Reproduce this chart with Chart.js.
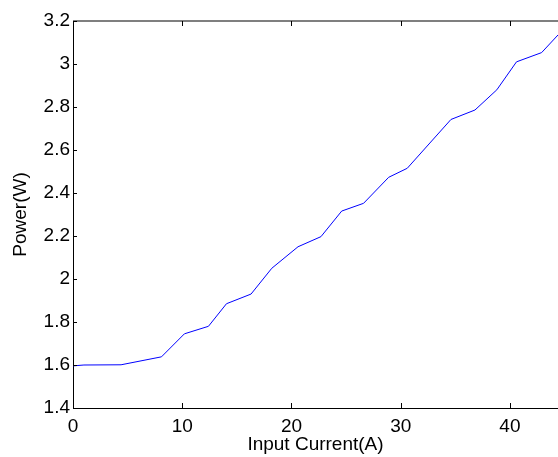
<!DOCTYPE html>
<html>
<head>
<meta charset="utf-8">
<script src="https://cdn.jsdelivr.net/npm/chart.js@4/dist/chart.umd.min.js"></script>
<style>
  html, body { margin: 0; padding: 0; background: #fff; }
  #wrap { width: 558px; height: 457px; }
</style>
</head>
<body>
<div id="wrap"><canvas id="chart"></canvas></div>
<script>
// values
const current = [0, 1.0, 4.4, 8.1, 10.2, 12.4, 14.05, 16.3, 18.2, 20.6, 22.7, 24.6, 26.6, 28.9, 30.6, 34.6, 36.8, 38.8, 40.6, 42.9, 44.4];
const power = [1.596, 1.6, 1.601, 1.638, 1.745, 1.78, 1.885, 1.93, 2.05, 2.15, 2.197, 2.316, 2.352, 2.473, 2.515, 2.742, 2.786, 2.88, 3.01, 3.053, 3.135];

const xTitle = "Input Current(A)";
const yTitle = "Power(W)";

Chart.defaults.font.family = "'Liberation Sans', Arial, Helvetica, sans-serif";
Chart.defaults.color = "#000";

// matlab style box: top edge and inward tick marks
const boxTicks = {
  id: "boxTicks",
  afterDatasetsDraw(chart) {
    const { ctx, chartArea: a, scales } = chart;
    ctx.save();
    ctx.strokeStyle = "#555";
    ctx.lineWidth = 1.5;
    ctx.beginPath();
    ctx.moveTo(a.left, a.top);
    ctx.lineTo(a.right, a.top);
    ctx.stroke();
    ctx.strokeStyle = "#000";
    ctx.lineWidth = 1;
    ctx.beginPath();
    scales.x.ticks.forEach(t => {
      const px = Math.round(scales.x.getPixelForValue(t.value)) + 0.5;
      ctx.moveTo(px, a.bottom);
      ctx.lineTo(px, a.bottom - 5);
      ctx.moveTo(px, a.top);
      ctx.lineTo(px, a.top + 5);
    });
    scales.y.ticks.forEach(t => {
      const py = Math.round(scales.y.getPixelForValue(t.value)) + 0.5;
      ctx.moveTo(a.left, py);
      ctx.lineTo(a.left + 4, py);
    });
    ctx.stroke();
    ctx.restore();
  }
};

new Chart(document.getElementById("chart"), {
  type: "line",
  data: {
    datasets: [{
      data: current.map((c, i) => ({ x: c, y: power[i] })),
      borderColor: "#0000ff",
      borderWidth: 1,
      pointRadius: 0,
      tension: 0,
      fill: false
    }]
  },
  options: {
    responsive: true,
    maintainAspectRatio: false,
    animation: false,
    layout: { padding: { top: 21, right: 0, left: 0, bottom: 0 } },
    plugins: { legend: { display: false }, tooltip: { enabled: false } },
    scales: {
      x: {
        type: "linear",
        min: 0,
        max: 44.4,
        afterFit: s => { s.height = 49; },
        grid: { display: false, drawTicks: false },
        border: { display: true, color: "#000", width: 1 },
        ticks: { stepSize: 10, includeBounds: false, padding: 7, font: { size: 19 }, maxRotation: 0 },
        title: { display: true, text: xTitle, font: { size: 19 }, padding: { top: 0, bottom: 1 } }
      },
      y: {
        min: 1.4,
        max: 3.2,
        afterFit: s => { s.width = 73; },
        grid: { display: false, drawTicks: false },
        border: { display: true, color: "#000", width: 1 },
        ticks: {
          stepSize: 0.2,
          padding: 3,
          font: { size: 19 },
          callback: v => String(+v.toFixed(1))
        },
        title: { display: true, text: yTitle, font: { size: 19 }, padding: { top: 9, bottom: 0 } }
      }
    }
  },
  plugins: [boxTicks]
});
</script>
</body>
</html>
